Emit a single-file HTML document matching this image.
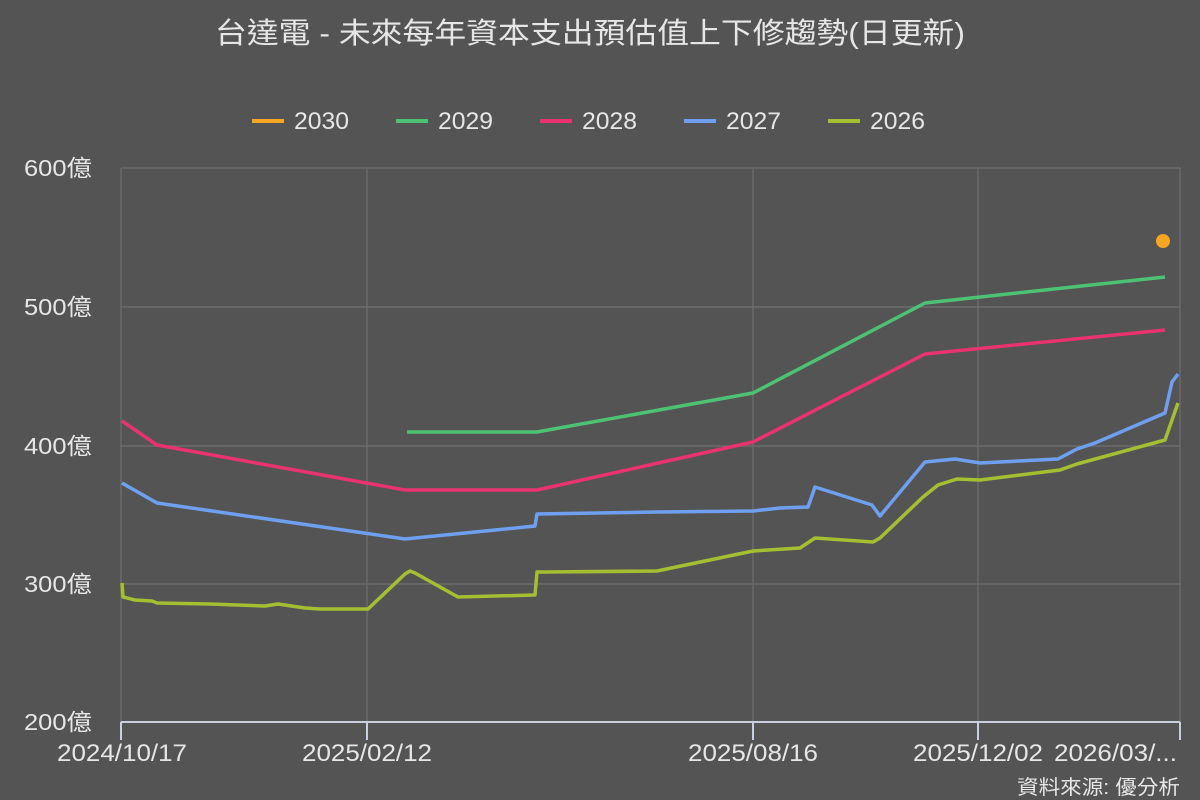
<!DOCTYPE html>
<html><head><meta charset="utf-8"><style>
html,body{margin:0;padding:0;background:#545454;}
svg{display:block;font-family:"Liberation Sans","Noto Sans CJK TC",sans-serif;}
</style></head><body>
<svg width="1200" height="800" viewBox="0 0 1200 800" xmlns="http://www.w3.org/2000/svg">
<rect width="1200" height="800" fill="#545454"/>
<text x="215" y="43" fill="#e6e6e6" font-size="29" textLength="750" lengthAdjust="spacingAndGlyphs">台達電 - 未來每年資本支出預估值上下修趨勢(日更新)</text>
<g font-size="24" fill="#e6e6e6">
<line x1="252" y1="121" x2="284" y2="121" stroke="#f5a623" stroke-width="4"/><text x="294" y="129" textLength="55" lengthAdjust="spacingAndGlyphs">2030</text>
<line x1="396" y1="121" x2="428" y2="121" stroke="#4dc274" stroke-width="4"/><text x="438" y="129" textLength="55" lengthAdjust="spacingAndGlyphs">2029</text>
<line x1="540" y1="121" x2="572" y2="121" stroke="#e8336e" stroke-width="4"/><text x="582" y="129" textLength="55" lengthAdjust="spacingAndGlyphs">2028</text>
<line x1="684" y1="121" x2="716" y2="121" stroke="#6fa0f0" stroke-width="4"/><text x="726" y="129" textLength="55" lengthAdjust="spacingAndGlyphs">2027</text>
<line x1="828" y1="121" x2="860" y2="121" stroke="#a5bf32" stroke-width="4"/><text x="870" y="129" textLength="55" lengthAdjust="spacingAndGlyphs">2026</text>
</g>
<g stroke="#707070" stroke-width="1.2">
<line x1="121" y1="168" x2="1180" y2="168"/><line x1="121" y1="307" x2="1180" y2="307"/>
<line x1="121" y1="446" x2="1180" y2="446"/><line x1="121" y1="584" x2="1180" y2="584"/>
<line x1="121" y1="168" x2="121" y2="722"/><line x1="367" y1="168" x2="367" y2="722"/>
<line x1="753" y1="168" x2="753" y2="722"/><line x1="978" y1="168" x2="978" y2="722"/>
<line x1="1180" y1="168" x2="1180" y2="722"/>
</g>
<g stroke="#c8d0e0" stroke-width="2">
<line x1="121" y1="722" x2="1180" y2="722"/>
<line x1="121" y1="722" x2="121" y2="740"/><line x1="367" y1="722" x2="367" y2="740"/>
<line x1="753" y1="722" x2="753" y2="740"/><line x1="978" y1="722" x2="978" y2="740"/>
<line x1="1180" y1="722" x2="1180" y2="740"/>
</g>
<g font-size="23" fill="#e6e6e6">
<text x="24" y="176" textLength="68" lengthAdjust="spacingAndGlyphs">600億</text>
<text x="24" y="315" textLength="68" lengthAdjust="spacingAndGlyphs">500億</text>
<text x="24" y="454" textLength="68" lengthAdjust="spacingAndGlyphs">400億</text>
<text x="24" y="592" textLength="68" lengthAdjust="spacingAndGlyphs">300億</text>
<text x="24" y="730" textLength="68" lengthAdjust="spacingAndGlyphs">200億</text>
</g>
<g font-size="24" fill="#e6e6e6">
<text x="57" y="761" textLength="130" lengthAdjust="spacingAndGlyphs">2024/10/17</text>
<text x="302" y="761" textLength="130" lengthAdjust="spacingAndGlyphs">2025/02/12</text>
<text x="688" y="761" textLength="130" lengthAdjust="spacingAndGlyphs">2025/08/16</text>
<text x="913" y="761" textLength="130" lengthAdjust="spacingAndGlyphs">2025/12/02</text>
<text x="1054" y="761" textLength="123" lengthAdjust="spacingAndGlyphs">2026/03/...</text>
</g>
<text x="1017" y="794" font-size="20" fill="#e6e6e6" textLength="163" lengthAdjust="spacingAndGlyphs">資料來源: 優分析</text>
<g fill="none" stroke-width="3.5" stroke-linejoin="round">
<polyline stroke="#4dc274" points="407,432 537,432 753,393 925,303 1165,277"/>
<polyline stroke="#e8336e" points="122,421 157,445 405,490 537,490 753,442 925,354 1165,330"/>
<polyline stroke="#6fa0f0" points="122,483 157,503 405,539 535,526 537,514 657,512 753,511 780,508 808,507 815,487 872,505 880,516 925,462 955,459 980,463 1058,459 1077,449 1095,443 1165,413 1172,382 1178,374"/>
<polyline stroke="#a5bf32" points="122,583 123,597 135,600 152,601 157,603 210,604 265,606 278,604 305,608 320,609 368,609 405,574 410,571 415,573 458,597 535,595 537,572 545,572 657,571 753,551 800,548 815,538 873,542 880,538 923,497 938,485 957,479 980,480 1060,470 1077,464 1165,440 1178,403"/>
</g>
<circle cx="1163" cy="241" r="7" fill="#f5a623"/>
</svg>
</body></html>
